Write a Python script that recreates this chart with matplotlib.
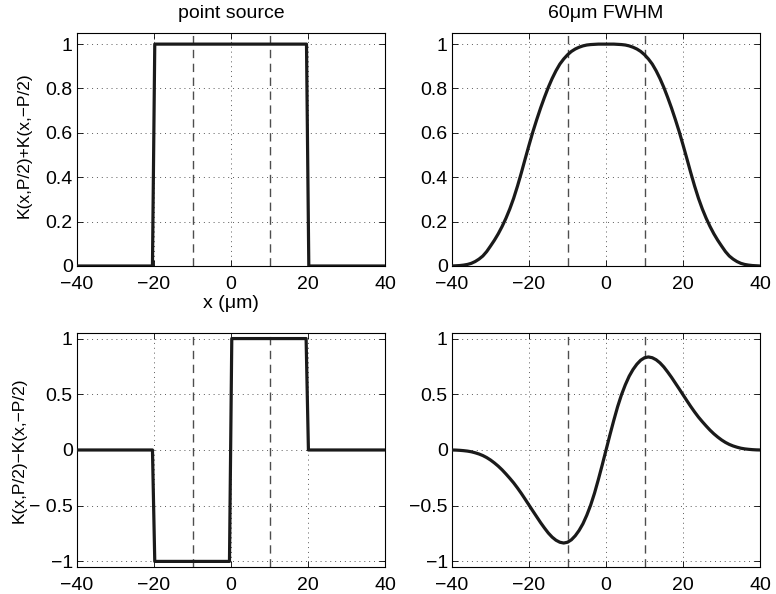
import matplotlib.pyplot as plt
from matplotlib.ticker import FuncFormatter

plt.rcParams['font.family'] = ['Liberation Sans', 'DejaVu Sans']
plt.rcParams['font.size'] = 14

# point source curves (sharp edges)
x_sum_pt = [-40, -20.4, -19.8, 19.6, 20.2, 40]
y_sum_pt = [0, 0, 1, 1, 0, 0]
x_diff_pt = [-40, -20.4, -19.8, -0.4, 0.2, 19.5, 20.1, 40]
y_diff_pt = [0, 0, -1, -1, 1, 1, 0, 0]

# 60um FWHM curves (1 um steps)
x_fwhm = [-40, -39, -38, -37, -36, -35, -34, -33, -32, -31, -30, -29, -28,
          -27, -26, -25, -24, -23, -22, -21, -20, -19, -18, -17, -16, -15,
          -14, -13, -12, -11, -10, -9, -8, -7, -6, -5, -4, -3, -2, -1, 0,
          1, 2, 3, 4, 5, 6, 7, 8, 9, 10, 11, 12, 13, 14, 15, 16, 17, 18, 19,
          20, 21, 22, 23, 24, 25, 26, 27, 28, 29, 30, 31, 32, 33, 34, 35, 36,
          37, 38, 39, 40]
y_sum_fwhm = [0.000, 0.001, 0.002, 0.004, 0.007, 0.012, 0.020, 0.031, 0.045,
              0.065, 0.090, 0.116, 0.145, 0.178, 0.215, 0.257, 0.305, 0.360,
              0.420, 0.483, 0.545, 0.605, 0.660, 0.712, 0.760, 0.805, 0.845,
              0.880, 0.910, 0.933, 0.952, 0.967, 0.978, 0.986, 0.992, 0.996,
              0.998, 0.999, 1.000, 1.000, 1.000,
              1.000, 1.000, 0.999, 0.998, 0.996, 0.992, 0.986, 0.978, 0.967,
              0.952, 0.933, 0.910, 0.880, 0.845, 0.805, 0.760, 0.712, 0.660,
              0.605, 0.545, 0.483, 0.420, 0.360, 0.305, 0.257, 0.215, 0.178,
              0.145, 0.116, 0.090, 0.065, 0.045, 0.031, 0.020, 0.012, 0.007,
              0.004, 0.002, 0.001, 0.000]
y_diff_fwhm = [0.000, -0.001, -0.003, -0.006, -0.010, -0.016, -0.025, -0.036,
               -0.050, -0.068, -0.090, -0.116, -0.145, -0.178, -0.215, -0.254,
               -0.295, -0.341, -0.390, -0.442, -0.495, -0.548, -0.600, -0.652,
               -0.700, -0.745, -0.782, -0.810, -0.828, -0.835, -0.828, -0.806,
               -0.770, -0.722, -0.662, -0.585, -0.495, -0.388, -0.265, -0.135,
               0.000,
               0.135, 0.265, 0.388, 0.495, 0.585, 0.662, 0.722, 0.770, 0.806,
               0.828, 0.835, 0.828, 0.810, 0.782, 0.745, 0.700, 0.652, 0.600,
               0.548, 0.495, 0.442, 0.390, 0.341, 0.295, 0.254, 0.215, 0.178,
               0.145, 0.116, 0.090, 0.068, 0.050, 0.036, 0.025, 0.016, 0.010,
               0.006, 0.003, 0.001, 0.000]

marker_x = [-10, 10]
xticks = [-40, -20, 0, 20, 40]
top_yticks = [0, 0.2, 0.4, 0.6, 0.8, 1]
bot_yticks = [-1, -0.5, 0, 0.5, 1]
bot_left_labels = ['\u22121', '\u2212 0.5', '0', '0.5', '1']


def fmt(v, pos):
    return ('%g' % v).replace('-', '\u2212')


fig = plt.figure(figsize=(7.76, 5.94), dpi=100)
L1, L2, W = 0.0992, 0.5825, 0.397
ax_tl = fig.add_axes([L1, 0.5522, W, 0.3922])
ax_tr = fig.add_axes([L2, 0.5522, W, 0.3922])
ax_bl = fig.add_axes([L1, 0.0455, W, 0.3939])
ax_br = fig.add_axes([L2, 0.0455, W, 0.3939])

panels = [
    (ax_tl, x_sum_pt, y_sum_pt, (0, 1.05), top_yticks),
    (ax_tr, x_fwhm, y_sum_fwhm, (0, 1.05), top_yticks),
    (ax_bl, x_diff_pt, y_diff_pt, (-1.05, 1.05), bot_yticks),
    (ax_br, x_fwhm, y_diff_fwhm, (-1.05, 1.05), bot_yticks),
]

for ax, x, y, ylim, yt in panels:
    ax.set_xlim(-40, 40)
    ax.set_ylim(*ylim)
    ax.set_xticks(xticks)
    ax.set_yticks(yt)
    ax.xaxis.set_major_formatter(FuncFormatter(fmt))
    ax.yaxis.set_major_formatter(FuncFormatter(fmt))
    ax.grid(True, linestyle=(0, (1, 4)), color='0.35', linewidth=0.7)
    ax.set_axisbelow(True)
    for xm in marker_x:
        ax.axvline(xm, color='0.3', linestyle=(0, (6, 4)), linewidth=1.0,
                   zorder=2)
    ax.plot(x, y, color='0.1', linewidth=2.3, zorder=3,
            solid_joinstyle='round')
    ax.tick_params(axis='x', direction='in', top=True, length=4,
                   width=0.6, labelsize=14, pad=7)
    ax.tick_params(axis='y', direction='in', right=True, length=4,
                   width=0.6, labelsize=14, pad=3)
    for sp in ax.spines.values():
        sp.set_linewidth(0.8)

ax_bl.set_yticklabels(bot_left_labels)

ax_tl.set_title('point source', fontsize=14, pad=11)
ax_tr.set_title('60\u03bcm FWHM', fontsize=14, pad=11)
ax_tl.set_xlabel('x (\u03bcm)', fontsize=14, labelpad=2)
ax_tl.set_ylabel('K(x,P/2)+K(x,\u2212P/2)', fontsize=12.5)
ax_bl.set_ylabel('K(x,P/2)\u2212K(x,\u2212P/2)', fontsize=12.5)
ax_tl.yaxis.set_label_coords(-0.146, 0.52)
ax_bl.yaxis.set_label_coords(-0.165, 0.5)

fig.savefig('out.png', dpi=100)
